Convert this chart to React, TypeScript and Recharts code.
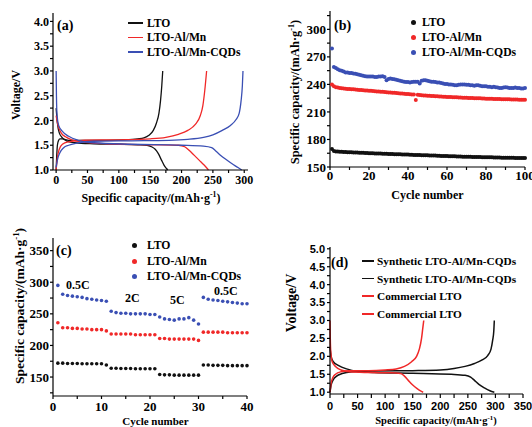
import { LineChart, Line, ScatterChart, Scatter, XAxis, YAxis, Legend } from "recharts";

const SERIF = '"Liberation Serif", "Times New Roman", serif';
const SANS = '"Liberation Sans", Arial, sans-serif';
const BLACK = "#111111";
const RED = "#f02828";
const BLUE = "#3a4fb4";

// (a) charge / discharge profiles, [capacity mAh/g, voltage V]
const ltoCharge = [[0, 1.0], [1, 1.3], [2, 1.5], [4, 1.6], [6, 1.63], [10, 1.63], [20, 1.6], [40, 1.6], [80, 1.6], [110, 1.61], [130, 1.63], [140, 1.65], [148, 1.7], [155, 1.8], [160, 1.95], [164, 2.15], [166.5, 2.4], [168.5, 2.7], [170, 3.0]];
const ltoDischarge = [[0, 2.25], [2, 1.95], [5, 1.75], [10, 1.65], [18, 1.58], [30, 1.55], [60, 1.53], [100, 1.52], [130, 1.51], [145, 1.5], [152, 1.47], [158, 1.42], [163, 1.33], [168, 1.2], [172, 1.1], [176, 1.03], [178, 1.0]];
const almnCharge = [[0, 1.0], [2, 1.25], [5, 1.42], [10, 1.52], [20, 1.57], [40, 1.6], [100, 1.61], [150, 1.63], [175, 1.66], [195, 1.72], [210, 1.8], [222, 1.92], [230, 2.1], [234, 2.3], [237, 2.6], [240, 3.0]];
const almnDischarge = [[0, 2.1], [3, 1.9], [8, 1.75], [15, 1.67], [25, 1.61], [40, 1.57], [80, 1.53], [150, 1.51], [195, 1.5], [205, 1.47], [212, 1.4], [220, 1.3], [228, 1.2], [236, 1.1], [243, 1.0]];
const cqdCharge = [[0, 1.05], [2, 1.2], [6, 1.35], [12, 1.45], [20, 1.5], [35, 1.55], [60, 1.58], [120, 1.59], [180, 1.6], [210, 1.62], [235, 1.66], [250, 1.71], [265, 1.8], [278, 1.9], [287, 2.02], [292, 2.15], [295, 2.4], [297, 2.7], [298, 3.0]];
const cqdDischarge = [[0, 3.0], [0.5, 2.5], [1.5, 2.1], [4, 1.9], [10, 1.78], [20, 1.68], [35, 1.6], [60, 1.55], [120, 1.52], [200, 1.5], [235, 1.48], [248, 1.45], [255, 1.38], [262, 1.3], [270, 1.22], [280, 1.13], [290, 1.05], [296, 1.0]];

// (b) cycling at constant rate, mAh/g per cycle
const lifeLto = [169.5, 167.5, 167.0, 166.8, 166.6, 166.5, 166.4, 166.3, 166.2, 166.1, 166.0, 165.9, 165.8, 165.7, 165.6, 165.5, 165.4, 165.3, 165.2, 165.1, 165.0, 164.9, 164.8, 164.8, 164.7, 164.6, 164.5, 164.5, 164.4, 164.3, 164.2, 164.1, 164.0, 164.0, 163.9, 163.8, 163.7, 163.6, 163.5, 163.5, 163.4, 163.3, 163.2, 163.2, 163.1, 163.0, 162.9, 162.8, 162.8, 162.7, 162.6, 162.5, 162.4, 162.4, 162.3, 162.2, 162.1, 162.0, 162.0, 161.9, 161.8, 161.7, 161.7, 161.6, 161.5, 161.5, 161.4, 161.3, 161.3, 161.2, 161.1, 161.1, 161.0, 161.0, 160.9, 160.8, 160.8, 160.7, 160.7, 160.6, 160.6, 160.5, 160.5, 160.4, 160.4, 160.3, 160.3, 160.2, 160.2, 160.1, 160.1, 160.0, 160.0, 160.0, 159.9, 159.9, 159.9, 159.8, 159.8, 159.8];
const lifeAlmn = [240, 238, 237, 236.5, 236, 235.8, 235.5, 235.3, 235.1, 234.9, 234.7, 234.6, 234.4, 234.2, 234.0, 233.9, 233.7, 233.5, 233.3, 233.2, 233.0, 232.8, 232.6, 232.4, 232.3, 232.1, 231.9, 231.7, 231.5, 231.3, 231.2, 231.0, 230.8, 230.6, 230.4, 230.2, 230.0, 229.8, 229.6, 229.5, 229.3, 229.1, 228.9, 223.0, 228.6, 228.4, 228.2, 228.0, 227.9, 227.7, 227.6, 227.4, 227.3, 227.1, 227.0, 226.9, 226.7, 226.6, 226.5, 226.4, 226.3, 226.2, 226.1, 226.0, 225.9, 225.8, 225.7, 225.6, 225.5, 225.4, 225.3, 225.2, 225.1, 225.0, 224.9, 224.8, 224.8, 224.7, 224.6, 224.5, 224.4, 224.4, 224.3, 224.2, 224.1, 224.1, 224.0, 223.9, 223.9, 223.8, 223.7, 223.7, 223.6, 223.6, 223.5, 223.5, 223.4, 223.4, 223.3, 223.3];
const lifeCqd = [279, 259, 258, 256.5, 255.5, 255, 254, 253, 253, 252.5, 252.5, 252, 251.5, 251, 250.5, 250, 249.5, 249, 248.5, 248.5, 248.5, 248.5, 248, 248, 248.5, 248.5, 249, 248, 244.5, 246, 246.5, 246, 245.5, 245, 244.5, 244, 243.5, 243, 242.5, 242.5, 242, 242.5, 243, 243, 243, 241, 244, 244.5, 244.5, 244, 243.5, 243, 243, 242.5, 242, 242, 241.5, 241, 240.5, 240.5, 240, 240, 239.5, 239, 239, 239.5, 240, 240, 240, 239.5, 239.5, 239, 239, 238.5, 239, 239, 238.5, 238, 238, 238, 237.5, 237.5, 237, 237.5, 237, 236.5, 236, 236, 236.5, 237, 236.5, 236, 236, 236, 236.5, 236, 236, 235.5, 235.5, 236];
const lifeCycles = lifeLto.map((_, i) => i + 1);

// (c) rate capability: 0.5C, 2C, 5C, back to 0.5C
const rateLto = [172, 172, 171.5, 171.5, 171.5, 171, 171, 171, 171, 171, 169, 164, 164, 163.5, 163.5, 163.5, 163, 163, 163, 163, 163, 154, 153.5, 153.5, 153, 153, 153, 153, 153, 153, 169, 169, 168.5, 168.5, 168.5, 168, 168, 168, 168, 168];
const rateAlmn = [236, 228, 228, 227, 227, 226, 226, 225, 225, 225, 223, 218, 218, 218, 218, 218, 217, 217, 217, 217, 217, 211, 211, 210, 210, 210, 210, 210, 210, 208, 221, 221, 221, 221, 221, 220, 220, 220, 220, 220];
const rateCqd = [295, 281, 279, 278, 277, 276, 274, 273, 272, 271, 270, 254, 252, 251, 251, 250, 250, 250, 250, 249, 249, 245, 242, 241, 240, 242, 242, 244, 240, 234, 276, 273, 272, 271, 270, 269, 268, 267, 266, 266];
const rateCycles = rateLto.map((_, i) => i + 1);
const rateLabels = [
  { text: "0.5C", x: 66, y: 288.5 },
  { text: "2C", x: 125, y: 302 },
  { text: "5C", x: 170, y: 304 },
  { text: "0.5C", x: 214, y: 294.5 },
];

// (d) synthetic vs commercial
const synCharge = [[0, 1.0], [2, 1.2], [6, 1.35], [12, 1.45], [22, 1.52], [40, 1.57], [80, 1.59], [150, 1.6], [200, 1.62], [225, 1.66], [245, 1.72], [262, 1.8], [276, 1.9], [286, 2.02], [292, 2.2], [295, 2.45], [297, 2.7], [298, 3.0]];
const synDischarge = [[0, 2.25], [2, 2.0], [6, 1.85], [15, 1.75], [30, 1.65], [50, 1.58], [80, 1.55], [150, 1.53], [220, 1.5], [245, 1.47], [255, 1.42], [262, 1.33], [270, 1.22], [280, 1.12], [290, 1.04], [298, 1.0]];
const comCharge = [[0, 1.0], [2, 1.25], [5, 1.4], [10, 1.5], [20, 1.57], [35, 1.6], [70, 1.6], [100, 1.62], [120, 1.65], [135, 1.72], [148, 1.85], [157, 2.0], [162, 2.2], [166, 2.5], [168, 2.75], [170, 3.0]];
const comDischarge = [[0, 3.0], [0.5, 2.5], [1.5, 2.1], [4, 1.85], [10, 1.72], [20, 1.62], [35, 1.57], [70, 1.55], [110, 1.54], [128, 1.52], [135, 1.45], [142, 1.33], [150, 1.2], [158, 1.1], [165, 1.03], [169, 1.0]];
const legendOrderD = ["Synthetic LTO-Al/Mn-CQDs", "Commercial LTO"];

// ticks (minor ones get no label)
const capTicksA = [0, 25, 50, 75, 100, 125, 150, 175, 200, 225, 250, 275, 300];
const voltTicksA = [1, 1.25, 1.5, 1.75, 2, 2.25, 2.5, 2.75, 3, 3.25, 3.5, 3.75, 4];
const cycleTicksB = [0, 10, 20, 30, 40, 50, 60, 70, 80, 90, 100];
const capTicksB = [150, 165, 180, 195, 210, 225, 240, 255, 270, 285, 300, 315];
const cycleTicksC = [0, 5, 10, 15, 20, 25, 30, 35, 40];
const capTicksC = [125, 150, 175, 200, 225, 250, 275, 300, 325, 350];
const capTicksD = [0, 25, 50, 75, 100, 125, 150, 175, 200, 225, 250, 275, 300, 325, 350];
const voltTicksD = [1, 1.25, 1.5, 1.75, 2, 2.25, 2.5, 2.75, 3, 3.25, 3.5, 3.75, 4, 4.25, 4.5, 4.75, 5];

const curve = (pts: number[][]) => pts.map(([c, v]) => ({ c, v }));
const dots = (xs: number[], ys: number[]) => ys.map((y, i) => ({ x: xs[i], y }));

const halfLabel = (v: number) => (Math.abs(v * 2 - Math.round(v * 2)) < 1e-6 ? v.toFixed(1) : "");
const everyLabel = (step: number, base = 0) => (v: number) => ((v - base) % step === 0 ? String(v) : "");

const tickFont = (size: number, family = SERIF) => ({ fill: "#000", fontSize: size, fontFamily: family, fontWeight: 700, style: { fontFamily: family } });
const AX = { stroke: "#000", strokeWidth: 1.2 };

function legendContent(kind: "line" | "dot", rowH: number, swatchW: number, gap: number, fontSize: number) {
  return (props: any) => (
    <div style={{ fontFamily: SERIF, fontWeight: 700, fontSize, color: "#000", lineHeight: "normal" }}>
      {(props.payload || [])
        .filter((p: any) => p.type !== "none" && !(p.payload && p.payload.legendType === "none"))
        .map((p: any, i: number) => (
          <div key={i} style={{ display: "flex", alignItems: "center", height: rowH, whiteSpace: "nowrap" }}>
            {kind === "line" ? (
              <span style={{ display: "inline-block", width: swatchW, height: 1.6, background: p.color, marginRight: gap }} />
            ) : (
              <span style={{ display: "inline-block", width: 5, height: 5, borderRadius: "50%", background: p.color, marginRight: gap }} />
            )}
            <span>{p.value}</span>
          </div>
        ))}
    </div>
  );
}

const dot = (r: number, fill: string) => (p: any) => <circle cx={p.cx} cy={p.cy} r={r} fill={fill} />;

function Sup({ size }: { size: number }) {
  return (
    <>
      <tspan dy={-size * 0.38} fontSize={size * 0.65}>-1</tspan>
      <tspan dy={size * 0.38}>)</tspan>
    </>
  );
}

function PanelA() {
  return (
    <LineChart width={266} height={213} margin={{ top: 13, right: 18, bottom: 0, left: 0 }}>
      <XAxis dataKey="c" type="number" domain={[-5, 306]} ticks={capTicksA} interval={0} tickFormatter={everyLabel(50)} tickSize={3} tickMargin={2} height={43} tick={tickFont(12)} axisLine={AX} tickLine={AX} />
      <YAxis type="number" domain={[1, 4.17]} ticks={voltTicksA} interval={0} tickFormatter={halfLabel} tickSize={3} tickMargin={1} width={53} tick={tickFont(12)} axisLine={AX} tickLine={AX} />
      <XAxis xAxisId="top" orientation="top" type="number" domain={[-5, 306]} tick={false} tickLine={false} height={0} axisLine={AX} />
      <YAxis yAxisId="right" orientation="right" type="number" domain={[1, 4.17]} tick={false} tickLine={false} width={0} axisLine={AX} />
      <Legend layout="vertical" align="center" verticalAlign="middle" itemSorter="dataKey" wrapperStyle={{ left: 128, top: 15.75, width: "auto" }} content={legendContent("line", 14.5, 15, 4, 11.6)} />
      <Line data={curve(ltoDischarge)} dataKey="v" name="LTO" type="monotone" stroke={BLACK} strokeWidth={1.3} dot={false} isAnimationActive={false} />
      <Line data={curve(ltoCharge)} dataKey="v" name="LTO charge" legendType="none" type="monotone" stroke={BLACK} strokeWidth={1.3} dot={false} isAnimationActive={false} />
      <Line data={curve(almnDischarge)} dataKey="v" name="LTO-Al/Mn" type="monotone" stroke={RED} strokeWidth={1.3} dot={false} isAnimationActive={false} />
      <Line data={curve(almnCharge)} dataKey="v" name="LTO-Al/Mn charge" legendType="none" type="monotone" stroke={RED} strokeWidth={1.3} dot={false} isAnimationActive={false} />
      <Line data={curve(cqdDischarge)} dataKey="v" name="LTO-Al/Mn-CQDs" type="monotone" stroke={BLUE} strokeWidth={1.3} dot={false} isAnimationActive={false} />
      <Line data={curve(cqdCharge)} dataKey="v" name="LTO-Al/Mn-CQDs charge" legendType="none" type="monotone" stroke={BLUE} strokeWidth={1.3} dot={false} isAnimationActive={false} />
    </LineChart>
  );
}

function PanelB() {
  return (
    <ScatterChart width={266} height={213} margin={{ top: 11, right: 7, bottom: 0, left: 0 }}>
      <XAxis dataKey="x" type="number" domain={[0, 100]} ticks={cycleTicksB} interval={0} tickFormatter={everyLabel(20)} tickSize={3} tickMargin={1} height={46} tick={tickFont(13)} axisLine={AX} tickLine={AX} />
      <YAxis dataKey="y" type="number" domain={[150, 320]} ticks={capTicksB} interval={0} tickFormatter={everyLabel(30, 150)} tickSize={3} tickMargin={1} width={64} tick={tickFont(13)} axisLine={AX} tickLine={AX} />
      <XAxis xAxisId="top" orientation="top" type="number" domain={[0, 100]} tick={false} tickLine={false} height={0} axisLine={AX} />
      <YAxis yAxisId="right" orientation="right" type="number" domain={[150, 320]} tick={false} tickLine={false} width={0} axisLine={AX} />
      <Legend layout="vertical" align="center" verticalAlign="middle" wrapperStyle={{ left: 144.5, top: 14.5, width: "auto" }} content={legendContent("dot", 15, 0, 6.5, 11.7)} />
      <Scatter data={dots(lifeCycles, lifeLto)} name="LTO" fill={BLACK} shape={dot(2, BLACK)} isAnimationActive={false} />
      <Scatter data={dots(lifeCycles, lifeAlmn)} name="LTO-Al/Mn" fill={RED} shape={dot(2, RED)} isAnimationActive={false} />
      <Scatter data={dots(lifeCycles, lifeCqd)} name="LTO-Al/Mn-CQDs" fill={BLUE} shape={dot(2, BLUE)} isAnimationActive={false} />
    </ScatterChart>
  );
}

function PanelC() {
  return (
    <ScatterChart width={266} height={214} margin={{ top: 25, right: 19, bottom: 0, left: 0 }}>
      <XAxis dataKey="x" type="number" domain={[0, 40]} ticks={cycleTicksC} interval={0} tickFormatter={everyLabel(10)} tickSize={3} tickMargin={3} height={31} tick={tickFont(13)} axisLine={AX} tickLine={AX} />
      <YAxis dataKey="y" type="number" domain={[120, 370]} ticks={capTicksC} interval={0} tickFormatter={everyLabel(50)} tickSize={3} tickMargin={1} width={53} tick={tickFont(13)} axisLine={AX} tickLine={AX} />
      <XAxis xAxisId="top" orientation="top" type="number" domain={[0, 40]} tick={false} tickLine={false} height={0} axisLine={AX} />
      <YAxis yAxisId="right" orientation="right" type="number" domain={[120, 370]} tick={false} tickLine={false} width={0} axisLine={AX} />
      <Legend layout="vertical" align="center" verticalAlign="middle" wrapperStyle={{ left: 131.5, top: 25, width: "auto" }} content={legendContent("dot", 15.5, 0, 10.5, 11.7)} />
      <Scatter data={dots(rateCycles, rateLto)} name="LTO" fill={BLACK} shape={dot(1.8, BLACK)} isAnimationActive={false} />
      <Scatter data={dots(rateCycles, rateAlmn)} name="LTO-Al/Mn" fill={RED} shape={dot(1.8, RED)} isAnimationActive={false} />
      <Scatter data={dots(rateCycles, rateCqd)} name="LTO-Al/Mn-CQDs" fill={BLUE} shape={dot(1.8, BLUE)} isAnimationActive={false} />
    </ScatterChart>
  );
}

function PanelD() {
  return (
    <LineChart width={266} height={214} margin={{ top: 34, right: 9, bottom: 0, left: 0 }}>
      <XAxis dataKey="c" type="number" domain={[0, 350]} ticks={capTicksD} interval={0} tickFormatter={everyLabel(50)} tickSize={4} tickMargin={4} height={33} tick={tickFont(11, SANS)} axisLine={AX} tickLine={AX} />
      <YAxis type="number" domain={[0.95, 5.05]} ticks={voltTicksD} interval={0} tickFormatter={halfLabel} tickSize={3} tickMargin={2} width={64} tick={tickFont(11, SANS)} axisLine={AX} tickLine={AX} />
      <XAxis xAxisId="top" orientation="top" type="number" domain={[0, 350]} tick={false} tickLine={false} height={0} axisLine={AX} />
      <YAxis yAxisId="right" orientation="right" type="number" domain={[0.95, 5.05]} tick={false} tickLine={false} width={0} axisLine={AX} />
      <Legend layout="vertical" align="center" verticalAlign="middle" itemSorter={(item: any) => legendOrderD.indexOf(item.value)} wrapperStyle={{ left: 96, top: 39.2, width: "auto" }} content={legendContent("line", 17.6, 12, 3, 11.3)} />
      <Line data={curve(synCharge)} dataKey="v" name="Synthetic LTO-Al/Mn-CQDs" type="monotone" stroke={BLACK} strokeWidth={1.5} dot={false} isAnimationActive={false} />
      <Line data={curve(synDischarge)} dataKey="v" name="Synthetic LTO-Al/Mn-CQDs" type="monotone" stroke={BLACK} strokeWidth={1.5} dot={false} isAnimationActive={false} />
      <Line data={curve(comCharge)} dataKey="v" name="Commercial LTO" type="monotone" stroke={RED} strokeWidth={1.5} dot={false} isAnimationActive={false} />
      <Line data={curve(comDischarge)} dataKey="v" name="Commercial LTO" type="monotone" stroke={RED} strokeWidth={1.5} dot={false} isAnimationActive={false} />
    </LineChart>
  );
}

function VTitle({ x, y, size, children }: any) {
  return (
    <text x={x} y={y} transform={`rotate(-90 ${x} ${y})`} textAnchor="middle" fontSize={size}>
      {children}
    </text>
  );
}

export default function App() {
  const box = (left: number, top: number): React.CSSProperties => ({ position: "absolute", left, top });
  return (
    <div style={{ position: "absolute", left: 0, top: 0, width: 532, height: 427, background: "#fff", overflow: "hidden", fontFamily: SERIF }}>
      <div style={box(0, 0)}><PanelA /></div>
      <div style={box(266, 0)}><PanelB /></div>
      <div style={box(0, 213)}><PanelC /></div>
      <div style={box(266, 213)}><PanelD /></div>
      <svg width={532} height={427} style={{ position: "absolute", left: 0, top: 0, pointerEvents: "none", fontFamily: SERIF, fontWeight: 700 }} fill="#000">
        <text x={57} y={29.5} fontSize={14}>(a)</text>
        <text x={334} y={29.5} fontSize={14}>(b)</text>
        <text x={56} y={255} fontSize={14}>(c)</text>
        <text x={331} y={267} fontSize={14}>(d)</text>
        {rateLabels.map((r, i) => (
          <text key={i} x={r.x} y={r.y} fontSize={12}>{r.text}</text>
        ))}
        <text x={151} y={202} textAnchor="middle" fontSize={12}>Specific capacity/(mAh·g<Sup size={12} /></text>
        <VTitle x={20} y={95} size={12}>Voltage/V</VTitle>
        <text x={427.5} y={199} textAnchor="middle" fontSize={12}>Cycle number</text>
        <VTitle x={299} y={92} size={12.5}>Specific capacity/(mAh·g<Sup size={12.5} /></VTitle>
        <text x={155.5} y={425} textAnchor="middle" fontSize={11}>Cycle number</text>
        <VTitle x={24} y={306} size={13.5}>Specific capacity/(mAh·g<Sup size={13.5} /></VTitle>
        <text x={436} y={424} textAnchor="middle" fontSize={10.5}>Specific capacity/(mAh·g<Sup size={10.5} /></text>
        <VTitle x={296} y={303} size={14}>Voltage/V</VTitle>
      </svg>
    </div>
  );
}
